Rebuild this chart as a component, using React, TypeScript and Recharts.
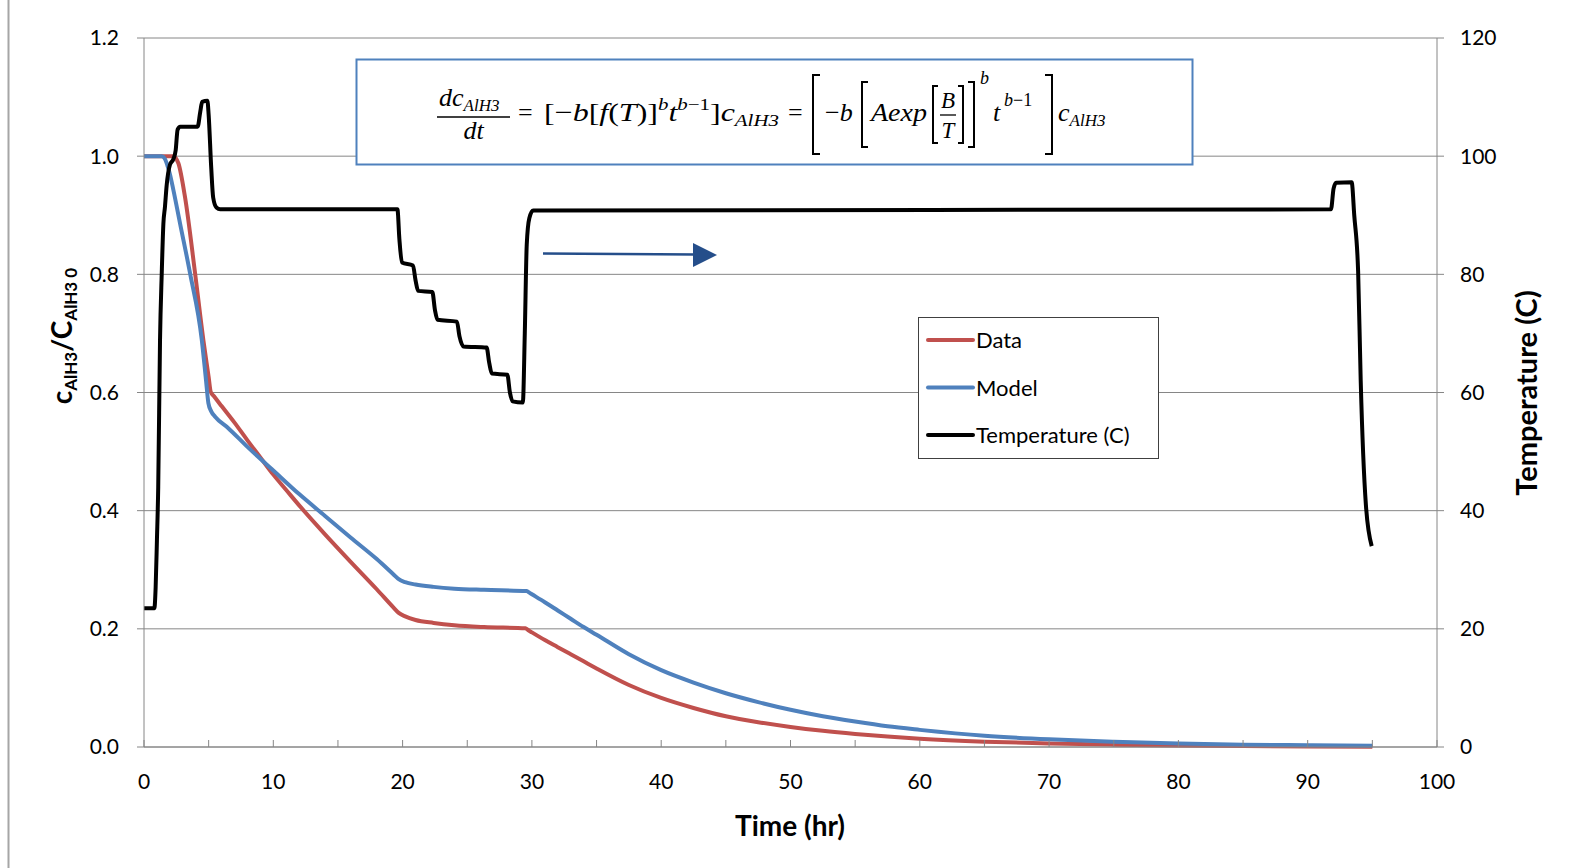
import React from 'react';
import { LineChart, Line, XAxis, YAxis, CartesianGrid, Label } from 'recharts';

// Data (measured) conversion c/c0 vs time (hr)
const dataTime = [0, 2.27, 2.45, 2.66, 3.17, 3.95, 4.59, 5.0, 5.16, 5.4, 6, 7, 8, 9, 10, 11, 12, 14, 16, 18, 19.3, 19.7, 20.2, 21, 22.4, 24, 26.3, 29.5, 29.7, 30, 31, 32, 33, 34, 35, 37.5, 40, 42.5, 45, 47.5, 50, 52.5, 55, 57.5, 60, 65, 70, 75, 80, 85, 90, 95];
const dataConc = [1.0, 1.0, 0.997, 0.988, 0.931, 0.802, 0.689, 0.626, 0.601, 0.594, 0.577, 0.549, 0.519, 0.49, 0.461, 0.435, 0.409, 0.36, 0.313, 0.267, 0.236, 0.227, 0.221, 0.215, 0.21, 0.206, 0.203, 0.201, 0.198, 0.194, 0.181, 0.169, 0.157, 0.145, 0.133, 0.105, 0.083, 0.066, 0.052, 0.042, 0.034, 0.0275, 0.0222, 0.0177, 0.014, 0.009, 0.006, 0.004, 0.0025, 0.0016, 0.001, 0.0006];

// Model
const modelTime = [0, 1.37, 1.6, 1.8, 2.0, 2.27, 2.79, 3.56, 4.47, 4.8, 4.98, 5.2, 5.5, 6.5, 8, 10, 12, 14, 16, 18, 19.3, 19.7, 20.2, 21, 22.4, 24, 26.3, 29.6, 29.8, 30, 31, 32, 33, 34, 35, 37.5, 40, 42.5, 45, 47.5, 50, 52.5, 55, 57.5, 60, 65, 70, 75, 80, 85, 90, 95];
const modelConc = [1.0, 1.0, 0.996, 0.985, 0.97, 0.943, 0.886, 0.802, 0.689, 0.62, 0.582, 0.568, 0.559, 0.54, 0.508, 0.468, 0.428, 0.391, 0.354, 0.318, 0.292, 0.284, 0.279, 0.275, 0.271, 0.268, 0.266, 0.264, 0.2612, 0.2585, 0.245, 0.231, 0.217, 0.203, 0.19, 0.157, 0.13, 0.109, 0.091, 0.076, 0.063, 0.052, 0.043, 0.035, 0.029, 0.019, 0.013, 0.009, 0.006, 0.004, 0.003, 0.002];

// Temperature (C)
const tempTime = [0, 0.8, 0.9, 1.0, 1.1, 1.24, 1.37, 1.5, 1.62, 1.75, 2.0, 2.27, 2.45, 2.6, 2.8, 4.15, 4.35, 4.5, 4.9, 5.0, 5.2, 5.35, 5.6, 5.9, 19.6, 19.75, 19.95, 20.8, 21.0, 21.2, 22.3, 22.5, 22.7, 24.2, 24.4, 24.7, 26.5, 26.7, 26.9, 28.1, 28.3, 28.5, 29.3, 29.45, 29.6, 29.8, 30.1, 91.8, 92.0, 92.2, 93.4, 93.6, 93.9, 94.1, 94.5, 94.95];
const tempValue = [23.5, 23.5, 27, 35, 44, 69, 80, 88.6, 91.4, 95, 98.5, 99.5, 101, 104.5, 105, 105, 107.5, 109.2, 109.4, 107, 98, 93, 91.3, 91, 91, 86, 82, 81.5, 79, 77.2, 77, 74, 72.3, 72, 69.5, 67.8, 67.6, 65, 63.2, 63, 60, 58.5, 58.3, 70, 85, 89.5, 90.8, 91, 94.5, 95.5, 95.6, 90, 80.5, 62, 41, 34];

const xTicks = [0, 5, 10, 15, 20, 25, 30, 35, 40, 45, 50, 55, 60, 65, 70, 75, 80, 85, 90, 95, 100];
const concTicks = [0, 0.2, 0.4, 0.6, 0.8, 1.0, 1.2];
const tempTicks = [0, 20, 40, 60, 80, 100, 120];

const seriesNames = ['Data', 'Model', 'Temperature (C)'];
const seriesColors = ['#C0504D', '#4F81BD', '#000000'];

const zip = (ts: number[], vs: number[]) => ts.map((t, i) => ({ t, v: vs[i] }));

const FONT = 'Lato, "Open Sans", sans-serif';
const MATH = '"Liberation Serif", "DejaVu Serif", serif';
const AXIS = '#868686';

const XTick = (props: any) => {
  const { x, y, payload } = props;
  const v = payload.value;
  return (
    <g>
      <line x1={x} x2={x} y1={y} y2={y - 7} stroke={AXIS} strokeWidth={1} />
      {v % 10 === 0 && (
        <text x={x} y={y + 42} textAnchor="middle" fontFamily={FONT} fontSize={21} fill="#000">
          {v}
        </text>
      )}
    </g>
  );
};

const Formula = () => (
  <g fontFamily={MATH} fill="#000">
    <rect x={356.5} y={59.5} width={836} height={105} fill="#fff" stroke="#4F81BD" strokeWidth={2} />
    {/* dc/dt */}
    <text x={439} y={106} fontSize={26} fontStyle="italic">dc<tspan fontSize={17} dy={5}>AlH3</tspan></text>
    <line x1={437} x2={510} y1={117} y2={117} stroke="#000" strokeWidth={1.3} />
    <text x={473.5} y={139} fontSize={26} fontStyle="italic" textAnchor="middle">dt</text>
    <text x={518} y={121} fontSize={26}>=</text>
    <text x={544} y={121} fontSize={26} textLength={235} lengthAdjust="spacingAndGlyphs">
      [−<tspan fontStyle="italic">b</tspan>[<tspan fontStyle="italic">f</tspan>(<tspan fontStyle="italic">T</tspan>)]
      <tspan fontSize={17} dy={-11} fontStyle="italic">b</tspan>
      <tspan fontStyle="italic" dy={11}>t</tspan>
      <tspan fontSize={17} dy={-11} fontStyle="italic">b</tspan><tspan fontSize={17}>−1</tspan>
      <tspan dy={11}>]</tspan><tspan fontStyle="italic">c</tspan>
      <tspan fontSize={17} dy={5} fontStyle="italic">AlH3</tspan>
    </text>
    <text x={788} y={121} fontSize={26}>=</text>
    <g fill="none" stroke="#000" strokeWidth={2}>
      <path d="M820 75 H813 V154 H820" />
      <path d="M868 82 H862 V147 H868" />
      <path d="M938 86 H933 V143 H938" />
      <path d="M958 86 H963 V143 H958" />
      <path d="M968 82 H974 V147 H968" />
      <path d="M1045 75 H1052 V154 H1045" />
    </g>
    <text x={825} y={121} fontSize={26}>−<tspan fontStyle="italic">b</tspan></text>
    <text x={871} y={121} fontSize={26} fontStyle="italic" textLength={56} lengthAdjust="spacingAndGlyphs">Aexp</text>
    <text x={948} y={108} fontSize={23} fontStyle="italic" textAnchor="middle">B</text>
    <line x1={940} x2={956} y1={115} y2={115} stroke="#000" strokeWidth={1.3} />
    <text x={948} y={138} fontSize={23} fontStyle="italic" textAnchor="middle">T</text>
    <text x={980} y={84} fontSize={18} fontStyle="italic">b</text>
    <text x={993} y={121} fontSize={26} fontStyle="italic">t</text>
    <text x={1004} y={106} fontSize={18}><tspan fontStyle="italic">b</tspan>−1</text>
    <text x={1058} y={121} fontSize={26} fontStyle="italic">c<tspan fontSize={17} dy={5}>AlH3</tspan></text>
  </g>
);

const LegendBox = () => (
  <g fontFamily={FONT}>
    <rect x={918.5} y={317.5} width={240} height={141} fill="#fff" stroke="#404040" strokeWidth={1} />
    {seriesNames.map((name, i) => {
      const cy = 340 + i * 47.5;
      return (
        <g key={name}>
          <line x1={928} x2={973} y1={cy} y2={cy} stroke={seriesColors[i]} strokeWidth={4} strokeLinecap="round" />
          <text x={976} y={cy + 8} fontSize={22} fill="#000">{name}</text>
        </g>
      );
    })}
  </g>
);

export default function App() {
  return (
    <div style={{ position: 'absolute', left: 0, top: 0, width: 1577, height: 868, background: '#fff' }}>
      <LineChart width={1577} height={868} margin={{ top: 38, right: 0, bottom: 0, left: 0 }}>
        <CartesianGrid yAxisId="c" vertical={false} stroke={AXIS} strokeWidth={1} />
        <XAxis
          type="number"
          dataKey="t"
          domain={[0, 100]}
          ticks={xTicks}
          interval={0}
          height={121}
          tickSize={0}
          tickMargin={0}
          tickLine={false}
          axisLine={{ stroke: AXIS }}
          tick={<XTick />}
        >
          <Label
            content={() => (
              <text x={790} y={836} textAnchor="middle" fontFamily={FONT} fontSize={28} fontWeight="bold" fill="#000">
                Time (hr)
              </text>
            )}
          />
        </XAxis>
        <YAxis
          yAxisId="c"
          domain={[0, 1.2]}
          ticks={concTicks}
          interval={0}
          width={144}
          tickSize={7}
          tickMargin={18}
          tickLine={{ stroke: AXIS }}
          axisLine={{ stroke: AXIS }}
          tickFormatter={(v: number) => v.toFixed(1)}
          tick={{ fill: '#000', fontSize: 21, fontFamily: FONT }}
        >
          <Label
            content={() => (
              <text
                x={72}
                y={336}
                transform="rotate(-90, 72, 336)"
                textAnchor="middle"
                fontFamily={FONT}
                fontWeight="bold"
                fontSize={28}
                fill="#000"
              >
                c<tspan fontSize={17} dy={5}>AlH3</tspan>
                <tspan dy={-5}>/C</tspan>
                <tspan fontSize={17} dy={5}>AlH3 0</tspan>
              </text>
            )}
          />
        </YAxis>
        <YAxis
          yAxisId="T"
          orientation="right"
          domain={[0, 120]}
          ticks={tempTicks}
          interval={0}
          width={140}
          tickSize={7}
          tickMargin={16}
          tickLine={{ stroke: AXIS }}
          axisLine={{ stroke: AXIS }}
          tick={{ fill: '#000', fontSize: 21, fontFamily: FONT }}
        >
          <Label
            content={() => (
              <text
                x={1537}
                y={393}
                transform="rotate(-90, 1537, 393)"
                textAnchor="middle"
                fontFamily={FONT}
                fontWeight="bold"
                fontSize={29}
                fill="#000"
              >
                Temperature (C)
              </text>
            )}
          />
        </YAxis>
        <Line
          yAxisId="c"
          data={zip(dataTime, dataConc)}
          dataKey="v"
          name={seriesNames[0]}
          type="monotone"
          stroke={seriesColors[0]}
          strokeWidth={4}
          dot={false}
          isAnimationActive={false}
        />
        <Line
          yAxisId="c"
          data={zip(modelTime, modelConc)}
          dataKey="v"
          name={seriesNames[1]}
          type="monotone"
          stroke={seriesColors[1]}
          strokeWidth={4}
          dot={false}
          isAnimationActive={false}
        />
        <Line
          yAxisId="T"
          data={zip(tempTime, tempValue)}
          dataKey="v"
          name={seriesNames[2]}
          type="monotone"
          stroke={seriesColors[2]}
          strokeWidth={4}
          dot={false}
          isAnimationActive={false}
        />
      </LineChart>
      <svg width={1577} height={868} style={{ position: 'absolute', left: 0, top: 0, pointerEvents: 'none' }}>
        <line x1={8.5} x2={8.5} y1={0} y2={868} stroke="#A6A6A6" strokeWidth={2} />
        <Formula />
        <line x1={543} y1={253.5} x2={696} y2={254.5} stroke="#254E8A" strokeWidth={2.5} />
        <polygon points="693,243 717,255 693,267" fill="#254E8A" />
        <LegendBox />
      </svg>
    </div>
  );
}
